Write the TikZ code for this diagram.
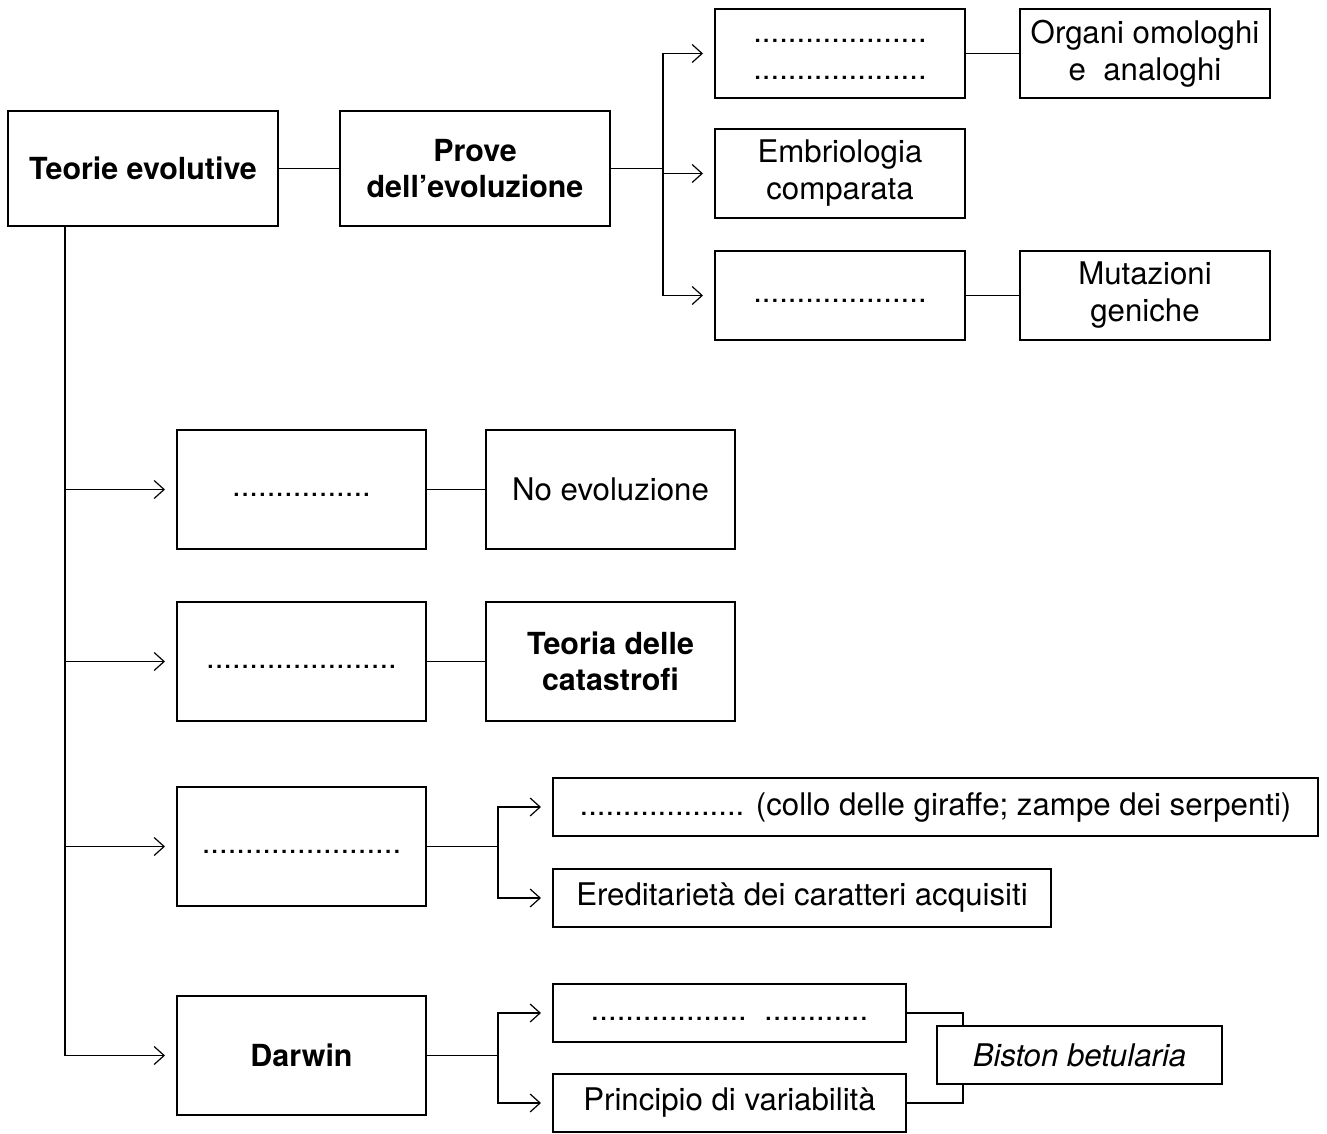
\documentclass[tikz,border=0pt]{standalone}
\usepackage{fontspec}
\setmainfont{TeX Gyre Heros}
\usetikzlibrary{arrows.meta,positioning}
\newcommand\boxfont{\fontsize{15.6}{18.5}\selectfont}
\newcommand\boldfont{\fontsize{15.2}{18}\selectfont\bfseries}
\tikzset{
  node distance=15pt and 30pt,
  main/.style ={rectangle, draw, line width=0.6pt, align=center, font=\boxfont,
                inner sep=2pt, outer sep=0pt, minimum width=135pt, minimum height=57.5pt},
  box/.style  ={rectangle, draw, line width=0.6pt, align=center, font=\boxfont,
                inner sep=2pt, outer sep=0pt, minimum width=125pt, minimum height=44.5pt},
  row/.style  ={rectangle, draw, line width=0.6pt, align=center, font=\boxfont,
                inner sep=2pt, outer sep=0pt, minimum width=124.5pt, minimum height=59.5pt},
  strip/.style={rectangle, draw, line width=0.6pt, align=center, font=\boxfont,
                inner sep=2pt, outer sep=0pt, minimum height=29pt},
  fl/.style   ={-{Straight Barb[length=5pt,width=9pt]}, shorten >=6pt},
}

\begin{document}
\begin{tikzpicture}[line width=0.6pt]
  \useasboundingbox (0,0) rectangle (663.5pt,-567pt);
  \node[main, font=\boldfont, anchor=north west] (teorie) at (4pt,-55.5pt) {Teorie evolutive};
  \node[main, font=\boldfont, right=31pt of teorie] (prove) {Prove\\dell’evoluzione};
  \node[box, right=52.5pt of prove, yshift=-2.5pt] (embrio) {Embriologia\\comparata};
  \node[box, above=15.5pt of embrio] (omol) {\strut....................\\\strut....................};
  \node[box, below=16.5pt of embrio] (gen) {\strut....................};
  \node[box, right=27.5pt of omol] (organi) {Organi omologhi\\e\ \ analoghi};
  \node[box, right=27.5pt of gen] (mutaz) {Mutazioni\\geniche};
  \coordinate[right=26.5pt of prove.east] (jp);
  \draw(teorie)--(prove);\draw(prove)--(jp);
  \draw[fl](jp)|-(omol);\draw[fl](jp)|-(embrio);\draw[fl](jp)|-(gen);
  \draw(omol)--(organi);\draw(gen)--(mutaz);

  % teorie a confronto
  \node[row, below right=102pt and 84.5pt of teorie.south west] (q1) {\strut................};
  \node[row, below=26.5pt of q1] (q2) {\strut......................};
  \node[row, below=33pt of q2] (q3) {\strut.......................};
  \node[row, font=\boldfont, below=45pt of q3] (darwin) {Darwin};
  \node[row, right=30pt of q1] (noev) {No evoluzione};
  \node[row, font=\boldfont, right=30pt of q2] (catas) {Teoria delle\\catastrofi};
  \coordinate[right=28.5pt of teorie.south west] (tb);
  \draw[fl](tb)|-(darwin);
  \draw[fl](tb |- q1.west)--(q1);\draw[fl](tb |- q2.west)--(q2);\draw[fl](tb |- q3.west)--(q3);
  \draw(q1)--(noev);\draw(q2)--(catas);

  % lamarck
  \node[strip, minimum width=382.5pt, anchor=north west] (giraffe) at ([xshift=63.5pt,yshift=4.5pt]q3.north east)
    {................... (collo delle giraffe; zampe dei serpenti)};
  \node[strip, minimum width=249pt, below right=16.5pt and 0pt of giraffe.south west] (acquis)
    {Ereditarietà dei caratteri acquisiti};
  \coordinate[right=36pt of q3.east] (jl);
  \draw(q3)--(jl);
  \draw[fl](jl)|-(giraffe);\draw[fl](jl)|-(acquis);

  % darwin
  \node[strip, minimum width=176.5pt, anchor=north west] (sel) at ([xshift=63.5pt,yshift=6pt]darwin.north east)
    {\strut..................\ \ ............};
  \node[strip, minimum width=176.5pt, below right=16pt and 0pt of sel.south west] (var) {Principio di variabilità};
  \node[strip, minimum width=142.5pt, font=\boxfont\itshape, anchor=north west] (biston)
    at ([xshift=15.5pt,yshift=8pt]sel.south east) {Biston betularia};
  \coordinate[right=36pt of darwin.east] (jd);
  \draw(darwin)--(jd);
  \draw[fl](jd)|-(sel);\draw[fl](jd)|-(var);
  \draw(sel)-|([xshift=13pt]biston.north west);
  \draw(var)-|([xshift=13pt]biston.south west);
\end{tikzpicture}
\end{document}
